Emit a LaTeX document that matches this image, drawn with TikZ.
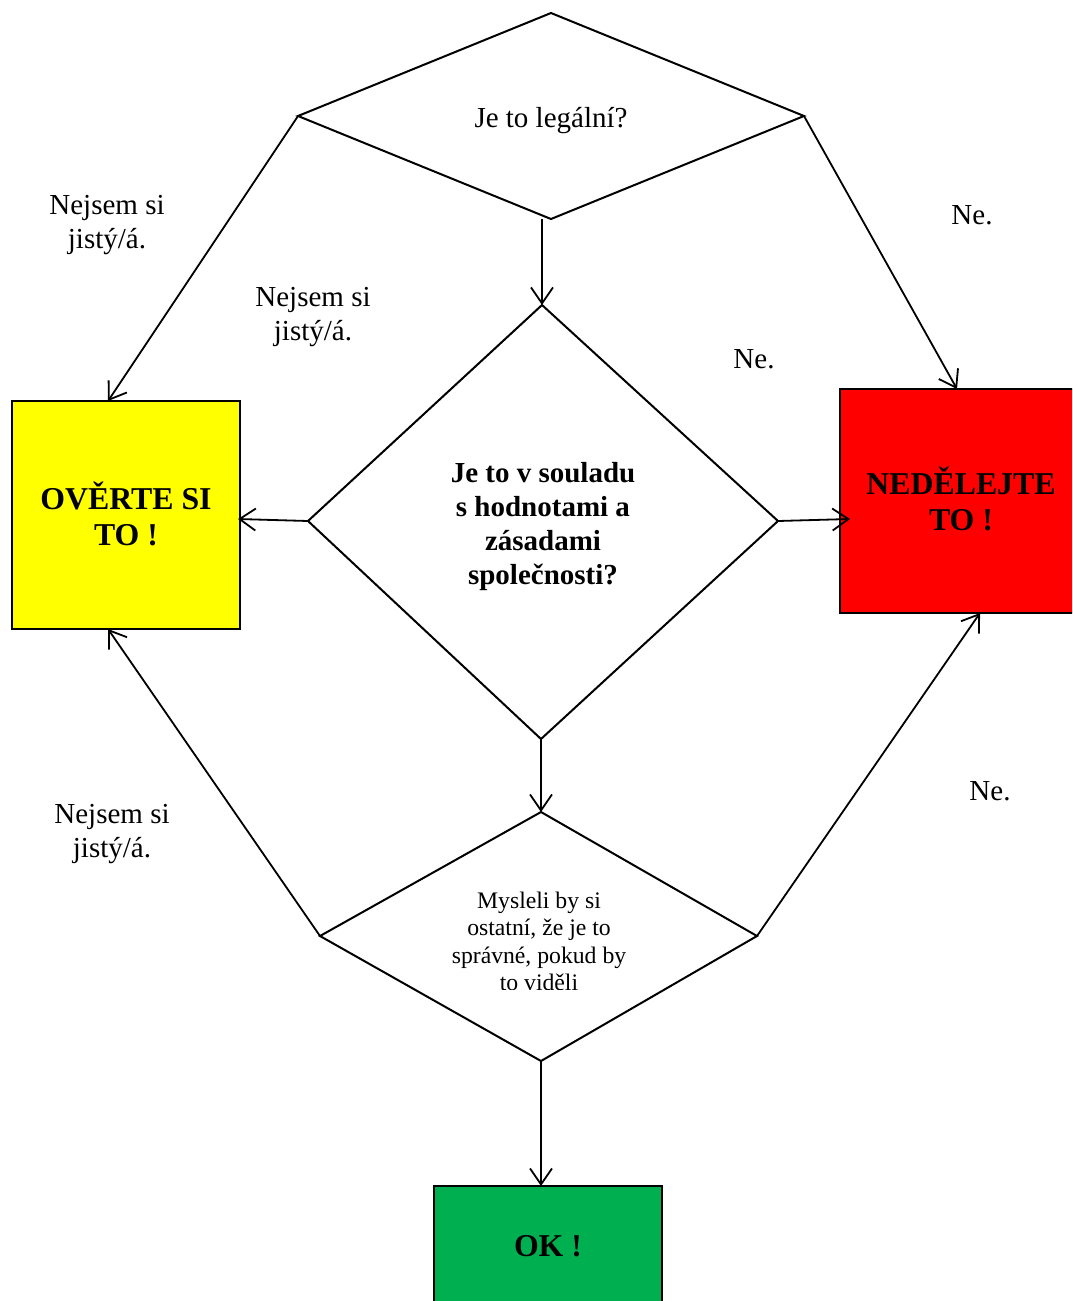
\documentclass[tikz,border=0pt]{standalone}
\usepackage{fontspec}
\setmainfont{Liberation Serif}
\usetikzlibrary{arrows.meta}
\definecolor{boxyellow}{RGB}{255,255,0}
\definecolor{boxred}{RGB}{255,0,0}
\definecolor{boxgreen}{RGB}{0,176,80}
\tikzset{
  conn/.style={line width=1.8pt,-{Straight Barb[length=16pt,width=22pt,line width=1.8pt]}},
  dia/.style={line width=2pt,line join=miter},
  lbl/.style={align=center,font=\fontsize{29}{34}\selectfont,inner sep=0pt},
  qtxt/.style={align=center,font=\fontsize{29}{34}\selectfont,inner sep=0pt},
  btxt/.style={align=center,font=\fontsize{29}{34}\selectfont\bfseries,inner sep=0pt},
  stxt/.style={align=center,font=\fontsize{23.7}{27.3}\selectfont,inner sep=0pt},
  boxtxt/.style={align=center,font=\fontsize{31.8}{36}\selectfont\bfseries,inner sep=0pt},
  outcome/.style={draw,line width=2pt}
}
\begin{document}
\begin{tikzpicture}[x=1pt,y=-1pt]
\useasboundingbox (0,0) rectangle (1072,1301);
\clip (0,0) rectangle (1072,1301);
% top diamond
\coordinate (t1) at (551,13);
\coordinate (t2) at (298,116);
\coordinate (t3) at (551,219);
\coordinate (t4) at (804,116);
\coordinate (t3a) at (542,219);
\draw[dia] (t1) -- (t2) -- (t3) -- (t4) -- cycle;
\node[qtxt] (q1) at (551,121) {Je to legální?};
% middle diamond
\coordinate (m1) at (542,305);
\coordinate (m2) at (308,521);
\coordinate (m3) at (541,739);
\coordinate (m4) at (778,521);
\draw[dia] (m1) -- (m2) -- (m3) -- (m4) -- cycle;
\node[btxt] (q2) at (543,527) {Je to v souladu\\s hodnotami a\\zásadami\\společnosti?};
% bottom diamond
\coordinate (b1) at (541,812);
\coordinate (b2) at (320,936);
\coordinate (b3) at (541,1061);
\coordinate (b4) at (757,936);
\draw[dia] (b1) -- (b2) -- (b3) -- (b4) -- cycle;
\begin{scope}
\clip (420,860) rectangle (660,989);
\node[stxt,anchor=north] (q3) at (539,892) {Mysleli by si\\ostatní, že je to\\správné, pokud by\\to viděli};
\end{scope}
% outcome boxes
\draw[outcome,fill=boxyellow] (12,401) rectangle (240,629);
\node[boxtxt] (yel) at (126,514) {OVĚRTE SI\\TO !};
\draw[outcome,fill=boxred] (840,389) rectangle (1082,613);
\node[boxtxt] (red) at (961,499) {NEDĚLEJTE\\TO !};
\draw[outcome,fill=boxgreen] (434,1186) rectangle (662,1310);
\node[boxtxt] (grn) at (548,1246) {OK !};
% target points on boxes
\coordinate (yT) at (108,401);
\coordinate (yR) at (238,519);
\coordinate (yB) at (108,629);
\coordinate (rT) at (957,389);
\coordinate (rL) at (850,519);
\coordinate (rB) at (980,613);
\coordinate (gT) at (541,1186);
% connectors
\draw[conn] (t2) -- (yT);
\draw[conn] (t4) -- (rT);
\draw[conn] (t3a) -- (m1);
\draw[conn] (m2) -- (yR);
\draw[conn] (m4) -- (rL);
\draw[conn] (m3) -- (b1);
\draw[conn] (b2) -- (yB);
\draw[conn] (b4) -- (rB);
\draw[conn] (b3) -- (gT);
% labels
\node[lbl] (l1) at (107,225) {Nejsem si\\jistý/á.};
\node[lbl] (l2) at (313,317) {Nejsem si\\jistý/á.};
\node[lbl] (l3) at (972,215) {Ne.};
\node[lbl] (l4) at (754,359) {Ne.};
\node[lbl] (l5) at (112,834) {Nejsem si\\jistý/á.};
\node[lbl] (l6) at (990,791) {Ne.};
\end{tikzpicture}
\end{document}
